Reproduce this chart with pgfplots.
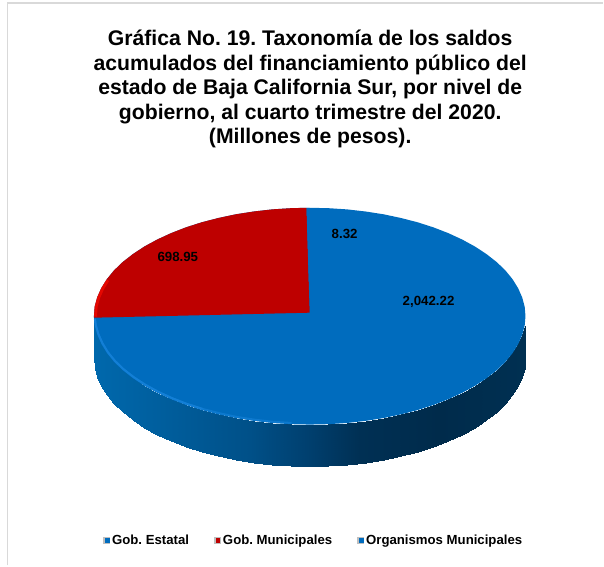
\documentclass[border=0pt]{standalone}
\usepackage{fontspec}
\setmainfont{Liberation Sans}
\usepackage{pgfplots}
\usepackage{pgfplotstable}
\pgfplotsset{compat=1.18}
\frenchspacing
\definecolor{azul}{RGB}{0,108,190}
\definecolor{rojo}{RGB}{190,0,0}
\definecolor{marco}{RGB}{217,217,217}

% side wall of the pie: x, top edge, bottom edge
\pgfplotstableread{
x y m
526 316.5 526
526 358.5 526
525.2 326 525
525.2 368 525
522.7 335.3 523
522.7 377.3 523
518.6 344.6 519
518.6 386.6 519
513 353.6 513
513 395.6 513
505.8 362.4 506
505.8 404.4 506
497.1 370.75 497
497.1 412.75 497
486.9 378.7 487
486.9 420.7 487
475.5 386.2 476
475.5 428.2 476
462.7 393.2 463
462.7 435.2 463
448.8 399.6 449
448.8 441.6 449
433.9 405.4 434
433.9 447.4 434
418 410.5 418
418 452.5 418
401.3 414.8 401
401.3 456.8 401
383.9 418.5 384
383.9 460.5 384
365.9 421.3 366
365.9 463.3 366
347.5 423.4 348
347.5 465.4 348
328.8 424.6 329
328.8 466.6 329
310 425 310
310 467 310
291.2 424.6 291
291.2 466.6 291
272.5 423.4 273
272.5 465.4 273
254.1 421.3 254
254.1 463.3 254
236.1 418.5 236
236.1 460.5 236
218.7 414.8 219
218.7 456.8 219
202 410.5 202
202 452.5 202
186.1 405.4 186
186.1 447.4 186
171.2 399.6 171
171.2 441.6 171
157.3 393.2 157
157.3 435.2 157
144.5 386.2 145
144.5 428.2 145
133.1 378.7 133
133.1 420.7 133
122.9 370.75 123
122.9 412.75 123
114.2 362.4 114
114.2 404.4 114
107 353.6 107
107 395.6 107
101.4 344.6 101
101.4 386.6 101
97.3 335.3 97
97.3 377.3 97
94.8 326 95
94.8 368 95
94 316.5 94
94 358.5 94
}\pared

\begin{document}
\begin{tikzpicture}
\begin{axis}[
	scale only axis,
	width=604pt,height=566pt,
	xmin=0,xmax=604,ymin=0,ymax=566,
	y dir=reverse,
	hide axis,
	clip=false,
	legend columns=3,
	legend cell align=left,
	legend style={at={(axis cs:103,541)},anchor=west,draw=none,fill=none,
		inner sep=0pt,font=\bfseries\fontsize{13.2}{15}\selectfont,
		/tikz/every even column/.append style={column sep=23pt}},
	legend image code/.code={
		\fill[black!25] (0pt,-3.5pt) rectangle (7pt,3.5pt);
		\fill[#1] (2pt,-2.5pt) rectangle (6.5pt,2pt);
	},
]
% keeps the page as large as the axis
\path (axis cs:0,0) rectangle (axis cs:604,566);
% frame
\addplot[marco,line width=1.2pt,forget plot] coordinates {(7.5,566) (7.5,3) (604,3)};
% side wall
\addplot[surf,shader=interp,mesh/rows=37,mesh/cols=2,point meta=explicit,
	point meta min=94,point meta max=526,forget plot,
	colormap={pared}{rgb255(94pt)=(0,104,172); rgb255(150pt)=(0,96,160);
		rgb255(250pt)=(0,80,136); rgb255(310pt)=(0,63,110); rgb255(360pt)=(0,48,84);
		rgb255(440pt)=(0,43,75); rgb255(526pt)=(0,48,82)}]
	table[x=x,y=y,meta=m] {\pared};
% Gob. Estatal: top of the pie
\addplot[fill=azul,draw=none] coordinates {
	(526,316.5) (525.2,326) (522.7,335.3) (518.6,344.6) (513,353.6) (505.8,362.4)
	(497.1,370.75) (486.9,378.7) (475.5,386.2) (462.7,393.2) (448.8,399.6) (433.9,405.4)
	(418,410.5) (401.3,414.8) (383.9,418.5) (365.9,421.3) (347.5,423.4) (328.8,424.6)
	(310,425) (291.2,424.6) (272.5,423.4) (254.1,421.3) (236.1,418.5) (218.7,414.8)
	(202,410.5) (186.1,405.4) (171.2,399.6) (157.3,393.2) (144.5,386.2) (133.1,378.7)
	(122.9,370.75) (114.2,362.4) (107,353.6) (101.4,344.6) (97.3,335.3) (94.8,326)
	(94,316.5) (94.8,307) (97.3,297.7) (101.4,288.4) (107,279.4) (114.2,270.6)
	(122.9,262.25) (133.1,254.3) (144.5,246.8) (157.3,239.8) (171.2,233.4) (186.1,227.6)
	(202,222.5) (218.7,218.2) (236.1,214.5) (254.1,211.7) (272.5,209.6) (291.2,208.4)
	(310,208) (328.8,208.4) (347.5,209.6) (365.9,211.7) (383.9,214.5) (401.3,218.2)
	(418,222.5) (433.9,227.6) (448.8,233.4) (462.7,239.8) (475.5,246.8) (486.9,254.3)
	(497.1,262.25) (505.8,270.6) (513,279.4) (518.6,288.4) (522.7,297.7) (525.2,307)
} -- cycle;
\addlegendentry{Gob. Estatal}
% Gob. Municipales
\addplot[fill=rojo,draw=none] coordinates {
	(310,313) (306.8,208) (291.2,208.4) (272.5,209.6) (254.1,211.7) (236.1,214.5)
	(218.7,218.2) (202,222.5) (186.1,227.6) (171.2,233.4) (157.3,239.8) (144.5,246.8)
	(133.1,254.3) (122.9,262.25) (114.2,270.6) (107,279.4) (101.4,288.4) (97.3,297.7)
	(94.8,307) (94,318)
} -- cycle;
\addlegendentry{Gob. Municipales}
% Organismos Municipales
\addplot[fill=azul,draw=none] coordinates {(310,313) (306.8,208) (310,208)} -- cycle;
\addlegendentry{Organismos Municipales}
% highlights on the rims
\addplot[red!90!orange,line width=3pt,opacity=.6,forget plot] coordinates {
	(95.6,317) (96.2,307) (98.7,298) (102.7,289) (108,280.5)};
\addplot[color={rgb,255:red,24;green,132;blue,220},line width=2pt,opacity=.55,forget plot] coordinates {
	(95,319) (96,326) (98.5,334.5) (102.5,343.5) (108,352.6) (115,361.2) (123.6,369.5)
	(133.8,377.5) (145.2,385) (158,392) (171.9,398.4) (186.8,404.2) (202.7,409.3)
	(219.4,413.6) (236.8,417.3) (254.8,420.1) (273.2,422.2) (291.9,423.4)};
\addplot[color={rgb,255:red,24;green,132;blue,220},line width=2pt,opacity=.6,forget plot] coordinates {
	(95,319) (96,326) (98.5,334.5) (102.5,343.5) (108,352.6) (115,361.2) (123.6,369.5)
	(133.8,377.5) (145.2,385) (158,392) (171.9,398.4) (186.8,404.2) (202.7,409.3)};
% title and data labels
\node[align=center,font=\bfseries\fontsize{21.2}{24.5}\selectfont,anchor=base] at (axis cs:310.5,144)
	{Gráfica No. 19. Taxonomía de los saldos\\acumulados del financiamiento público del\\estado de Baja California Sur, por nivel de\\gobierno, al cuarto trimestre del 2020.\\(Millones de pesos).};
\node[font=\bfseries\fontsize{13.3}{15}\selectfont] at (axis cs:178,257.5) {698.95};
\node[font=\bfseries\fontsize{13.3}{15}\selectfont] at (axis cs:345,234.5) {8.32};
\node[font=\bfseries\fontsize{13.3}{15}\selectfont] at (axis cs:429,302.5) {2,042.22};
\end{axis}
\end{tikzpicture}
\end{document}
